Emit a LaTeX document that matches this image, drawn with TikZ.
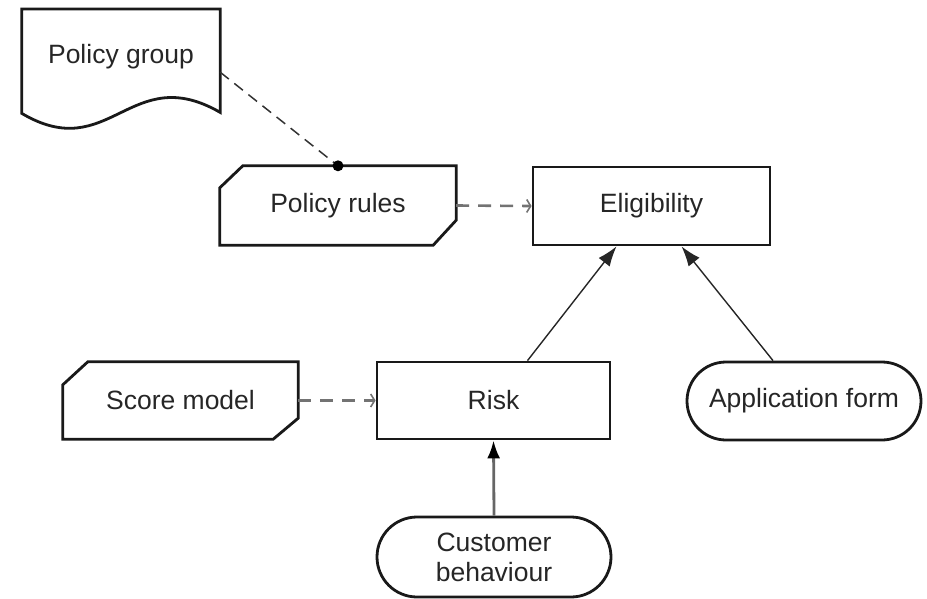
\documentclass[tikz,border=0pt]{standalone}
\usepackage{fontspec}
\setmainfont{Liberation Sans}
\usetikzlibrary{shapes.misc,arrows.meta,calc}
\begin{document}
\begin{tikzpicture}[x=1pt,y=-1pt,
  txt/.style={font=\fontsize{26.5}{30}\selectfont, text=black!85},
  boxline/.style={line width=2.8pt, draw=black!90},
  plainbox/.style={txt, boxline, draw, inner sep=0pt},
  ghostbox/.style={txt, inner sep=0pt},
  stadium/.style={txt, boxline, draw, rounded rectangle, inner sep=0pt, align=center},
  dashlink/.style={draw=black!55, line width=2.6pt, dash pattern=on 13pt off 9pt,
     -{Straight Barb[length=4pt,width=13pt,line width=1.6pt]}},
  solidlink/.style={draw=black!85, line width=1.4pt, -{Latex[length=20pt,width=14pt]}}
]
\useasboundingbox (0,0) rectangle (927,598);

% nodes
\node[ghostbox, anchor=north, minimum width=198pt, text height=54pt, text depth=50pt] (pg) at (121,9) {Policy group};
\node[ghostbox, minimum width=236pt, minimum height=79pt] (pr) at (338,205.5) {Policy rules};
\node[plainbox, minimum width=237pt, minimum height=78pt] (el) at (651.5,206) {Eligibility};
\node[ghostbox, minimum width=235pt, minimum height=77pt] (sm) at (180.5,400.5) {Score model};
\node[plainbox, minimum width=233pt, minimum height=77pt] (rk) at (493.5,400.5) {Risk};
\node[stadium, minimum width=234pt, minimum height=78pt] (af) at (804,401) {Application form};
\node[stadium, minimum width=234pt, minimum height=80pt] (cb) at (494,557) {Customer\\behaviour};

% document shape
\draw[boxline] (pg.north west) -- (pg.north east) -- ($(pg.south east)+(0,-1)$)
  .. controls ($(pg.south east)+(-90,-53)$) and ($(pg.south west)+(88,52)$) .. (pg.south west) -- cycle;

% chamfered shapes
\draw[boxline] ($(pr.north west)+(23,0)$) -- (pr.north east) -- ($(pr.south east)+(0,-25)$)
  -- ($(pr.south east)+(-23,0)$) -- (pr.south west) -- ($(pr.north west)+(0,22)$) -- cycle;
\draw[boxline] ($(sm.north west)+(25,0)$) -- (sm.north east) -- ($(sm.south east)+(0,-21)$)
  -- ($(sm.south east)+(-25,0)$) -- (sm.south west) -- ($(sm.north west)+(0,23)$) -- cycle;

% connectors
\draw[draw=black!80, line width=1.5pt, dash pattern=on 11pt off 7pt] ($(pg.east)+(0,11)$) -- (pr.north);
\fill[black] (pr.north) circle (5.5pt);
\draw[dashlink] (pr.east) -- (el.west);
\draw[dashlink] (sm.east) -- (rk.west);
\draw[solidlink] ([xshift=34pt]rk.north) -- ([xshift=-35pt]el.south);
\draw[solidlink] ([xshift=-31pt]af.north) -- ([xshift=30pt]el.south);
\draw[draw=black!60, line width=2.8pt, -{Latex[length=18pt,width=13pt,color=black]}] (cb.north) -- (rk.south);
\end{tikzpicture}
\end{document}
